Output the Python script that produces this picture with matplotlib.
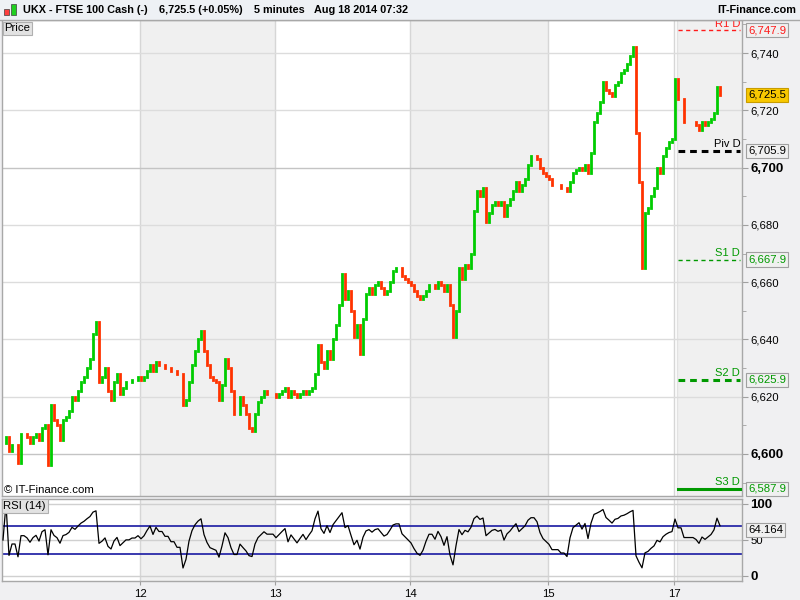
import numpy as np
import matplotlib
matplotlib.use("Agg")
import matplotlib.pyplot as plt
from matplotlib.patches import Rectangle
import matplotlib.transforms as mtransforms

plt.rcParams['font.family'] = ['Liberation Sans', 'DejaVu Sans']

# ---------------- data (5-minute closes, sampled about every 2.3 bars) ----------------
day_labels = ["11", "12", "13", "14", "15", "17", "18"]
day_11 = [6604, 6606, 6601, 6603, 6603, 6597, 6607, 6607, 6606, 6604, 6606, 6607, 6605, 6609, 6610, 6596,
          6617, 6612, 6610, 6605, 6612, 6613, 6615, 6620, 6619, 6622, 6625, 6627, 6630, 6633, 6642, 6646,
          6625, 6627, 6630, 6622, 6619, 6625, 6628, 6621, 6623, 6625, 6625, 6626, 6626, 6627]
day_12 = [6626, 6627, 6629, 6631, 6629, 6632, 6631, 6631, 6630, 6630, 6629, 6629, 6628, 6628, 6617, 6619,
          6625, 6631, 6636, 6640, 6643, 6636, 6631, 6627, 6626, 6625, 6619, 6624, 6633, 6630, 6622, 6614,
          6614, 6620, 6617, 6614, 6609, 6608, 6614, 6618, 6620, 6622, 6621, 6621, 6621]
day_13 = [6620, 6621, 6622, 6623, 6620, 6622, 6621, 6620, 6621, 6622, 6621, 6622, 6623, 6628, 6638, 6632,
          6630, 6636, 6633, 6640, 6645, 6652, 6663, 6654, 6657, 6650, 6641, 6645, 6635, 6647, 6656, 6658,
          6656, 6659, 6660, 6658, 6656, 6657, 6660, 6664, 6665, 6665, 6662, 6661, 6660]
day_14 = [6659, 6657, 6655, 6654, 6655, 6657, 6659, 6659, 6658, 6660, 6659, 6657, 6659, 6652, 6641, 6650,
          6665, 6661, 6666, 6665, 6670, 6685, 6692, 6690, 6693, 6681, 6684, 6687, 6688, 6687, 6688, 6683,
          6687, 6689, 6692, 6695, 6692, 6694, 6696, 6701, 6704, 6704, 6703, 6700, 6698, 6697]
day_15 = [6696, 6694, 6694, 6694, 6693, 6693, 6692, 6695, 6698, 6699, 6700, 6699, 6701, 6698, 6705, 6716,
          6719, 6723, 6730, 6727, 6726, 6725, 6729, 6730, 6733, 6734, 6736, 6739, 6742, 6712, 6695, 6665,
          6684, 6686, 6690, 6693, 6700, 6698, 6704, 6707, 6709, 6710]
day_17 = [6731]
day_18 = [6724, 6724, 6716, 6716, 6716, 6716, 6715, 6713, 6716, 6715, 6716, 6717, 6719, 6728, 6725.5]
days = [day_11, day_12, day_13, day_14, day_15, day_17, day_18]

price_ticks = [6600, 6620, 6640, 6660, 6680, 6700, 6720, 6740]
bold_ticks = [6600, 6700]
pivot_names = ["R1 D", "Piv D", "S1 D", "S2 D", "S3 D"]
pivot_values = [6747.9, 6705.9, 6667.9, 6625.9, 6587.9]
pivot_colors = ["#ff1a1a", "#000000", "#009900", "#009900", "#009900"]
pivot_styles = [("--", 1.0), ("--", 2.2), ("--", 1.0), ("--", 2.2), ("-", 2.2)]
last_price = 6725.5
rsi_last_label = 64.164
rsi_period = 14            # RSI(14) on 5-minute bars
bars_per_sample = 2.3      # each sampled close spans ~2.3 original bars

# ---------------- layout helpers ----------------
W, H = 800, 600
fig = plt.figure(figsize=(8, 6), dpi=100, facecolor="#f0f0f2")
fx = lambda px: px / W
fy = lambda py: 1 - py / H

L, R = 2, 742
ax = fig.add_axes([fx(L), fy(496), fx(R) - fx(L), fy(20) - fy(496)])
rax = fig.add_axes([fx(L), fy(581), fx(R) - fx(L), fy(499) - fy(581)])

close = np.concatenate([np.array(d, dtype=float) for d in days])
n = len(close)
idx = np.arange(n)
opens = np.concatenate([[close[0]], close[:-1]])
counts = [len(d) for d in days]
starts = np.cumsum([0] + counts)[:-1]
bounds = starts - 1 / 3.0
xmin, xmax = -1 / 3.0, -1 / 3.0 + (R - L) / 3.0

# price scale
pp = 2.864
ymax = 6600 + (454 - 20) / pp
ymin = 6600 - (496 - 454) / pp

for a in (ax, rax):
    a.set_facecolor("white")
    a.set_xlim(xmin, xmax)
    for k in (1, 3, 6):
        end = bounds[k + 1] if k + 1 < len(bounds) else xmax
        a.axvspan(bounds[k], end, color="#f0f0f0", zorder=0, lw=0)
    for k in (1, 2, 3, 4, 5):
        a.axvline(bounds[k], color="#d6d6d6", lw=1, zorder=1)
    a.axvline(bounds[6], color="#e2e2e2", lw=1, zorder=1)
    for s in a.spines.values():
        s.set_color("#a8a8a8")
        s.set_linewidth(1)

ax.set_ylim(ymin, ymax)
for t in price_ticks:
    ax.axhline(t, color="#c4c4c4" if t in bold_ticks else "#dcdcdc", lw=1, zorder=1)

# candles
up = close >= opens
lo = np.minimum(opens, close)
hi = np.maximum(opens, close)
ax.vlines(idx[up], lo[up], hi[up], colors="#00cc00", lw=2.0, zorder=3, capstyle="projecting")
ax.vlines(idx[~up], lo[~up], hi[~up], colors="#ff3300", lw=2.0, zorder=3, capstyle="projecting")

# pivot lines (current day)
x0 = bounds[6] + 0.3
x1 = xmax - 0.6
for name, v, c, (ls, lw) in zip(pivot_names, pivot_values, pivot_colors, pivot_styles):
    if ls == "--":
        dash = (3, 2.5) if lw < 1.5 else (2.2, 1.6)
        ax.plot([x0, x1], [v, v], color=c, lw=lw, linestyle=(0, dash), zorder=4)
    else:
        ax.plot([x0, x1], [v, v], color=c, lw=lw, zorder=4)
    ax.text(x1, v + 0.6, name, color=c, fontsize=8, ha="right", va="bottom", zorder=5)

# right axis ticks
ax.yaxis.tick_right()
ax.set_yticks(price_ticks)
ax.set_yticks(np.arange(6590, 6751, 10), minor=True)
ax.set_yticklabels([f"{t:,}" for t in price_ticks], fontsize=8.2)
for lab, t in zip(ax.get_yticklabels(), price_ticks):
    if t in bold_ticks:
        lab.set_fontweight("bold")
        lab.set_fontsize(9.5)
ax.tick_params(axis="y", which="both", length=4, color="#a0a0a0", pad=2)
ax.tick_params(axis="y", which="minor", length=3)
ax.set_xticks([])

# boxed value labels on the right
xr = (748 - L) / (R - L)
trans = mtransforms.blended_transform_factory(ax.transAxes, ax.transData)
for v, c in zip(pivot_values, pivot_colors):
    ax.text(xr, v, f"{v:,.1f}", color=c, fontsize=8.2, ha="left", va="center", transform=trans,
            clip_on=False, zorder=6,
            bbox=dict(boxstyle="square,pad=0.18", fc="#f0f0f0", ec="#a0a0a0", lw=0.8))
ax.text(xr, last_price, f"{last_price:,.1f}", color="black", fontsize=8.2, ha="left", va="center",
        transform=trans, clip_on=False, zorder=7,
        bbox=dict(boxstyle="square,pad=0.18", fc="#f8c800", ec="#c89c00", lw=0.8))

# ---------------- RSI (Wilder) on the sampled closes ----------------
per = max(2, int(round(rsi_period / bars_per_sample)))
d = np.diff(close)
g = np.where(d > 0, d, 0.0)
l = np.where(d < 0, -d, 0.0)
ag = np.zeros(len(d))
al = np.zeros(len(d))
ag[0], al[0] = g[0], l[0]
for k in range(1, len(d)):
    p = min(k + 1, per)
    ag[k] = (ag[k - 1] * (p - 1) + g[k]) / p
    al[k] = (al[k - 1] * (p - 1) + l[k]) / p
rs = np.divide(ag, al, out=np.full_like(ag, 1e9), where=al > 0)
rsi = np.concatenate([[50.0], 100 - 100 / (1 + rs)])

rax.set_ylim(-5 / 0.72, 100 + 5 / 0.72)
for t in (0, 50, 100):
    rax.axhline(t, color="#d0d0d0", lw=1, zorder=1)
for t in (30, 70):
    rax.axhline(t, color="#2a2aa8", lw=1.3, zorder=2)
rax.plot(idx, rsi, color="black", lw=0.9, zorder=3)
rax.yaxis.tick_right()
rax.set_yticks([0, 50, 100])
rax.set_yticklabels(["0", "50", "100"], fontsize=8.2)
for lab, t in zip(rax.get_yticklabels(), [0, 50, 100]):
    if t != 50:
        lab.set_fontweight("bold")
        lab.set_fontsize(9.5)
rax.tick_params(axis="y", length=4, color="#a0a0a0", pad=2)
rtrans = mtransforms.blended_transform_factory(rax.transAxes, rax.transData)
rax.text(xr, rsi_last_label, f"{rsi_last_label:.3f}", color="black", fontsize=8.2, ha="left",
         va="center", transform=rtrans, clip_on=False, zorder=7,
         bbox=dict(boxstyle="square,pad=0.18", fc="#f0f0f0", ec="#a0a0a0", lw=0.8))

shown = [1, 2, 3, 4, 5]
rax.set_xticks([bounds[k] for k in shown])
rax.set_xticklabels([day_labels[k] for k in shown], fontsize=8.2)
rax.tick_params(axis="x", length=3, color="#a0a0a0", pad=3)

# panel captions
ax.text(0.003, 0.993, "Price", transform=ax.transAxes, fontsize=8.2, ha="left", va="top", zorder=8,
        bbox=dict(boxstyle="square,pad=0.15", fc="#e2e2e2", ec="#b0b0b0", lw=0.8))
ax.text(0.003, 6 / 476, "© IT-Finance.com", transform=ax.transAxes, fontsize=8.2, ha="left",
        va="center", zorder=8)
rax.text(0.002, 0.975, "RSI (14)", transform=rax.transAxes, fontsize=8.2, ha="left", va="top", zorder=8,
         bbox=dict(boxstyle="square,pad=0.15", fc="#e2e2e2", ec="#b0b0b0", lw=0.8))

# ---------------- header ----------------
fig.patches.append(Rectangle((0, fy(20)), 1, 1 - fy(20), transform=fig.transFigure,
                             fc="#eef1f5", ec="none", zorder=0))
fig.add_artist(plt.Line2D([0, 1], [fy(20), fy(20)], transform=fig.transFigure, color="#a8a8a8", lw=1))
fig.patches.append(Rectangle((fx(4), fy(15)), fx(5), fy(9) - fy(15), transform=fig.transFigure,
                             fc="#ff4040", ec="#404040", lw=0.5))
fig.patches.append(Rectangle((fx(11), fy(15)), fx(5), fy(4) - fy(15), transform=fig.transFigure,
                             fc="#20d020", ec="#404040", lw=0.5))
hdr = dict(fontsize=7.8, fontweight="bold", va="center", color="black")
fig.text(fx(23), fy(10), "UKX - FTSE 100 Cash (-)", **hdr)
fig.text(fx(159), fy(10), f"{last_price:,.1f} (+0.05%)", **hdr)
fig.text(fx(254), fy(10), "5 minutes", **hdr)
fig.text(fx(314), fy(10), "Aug 18 2014 07:32", **hdr)
fig.text(fx(796), fy(10), "IT-Finance.com", ha="right", **hdr)

fig.savefig("out.png", dpi=100, facecolor=fig.get_facecolor())
